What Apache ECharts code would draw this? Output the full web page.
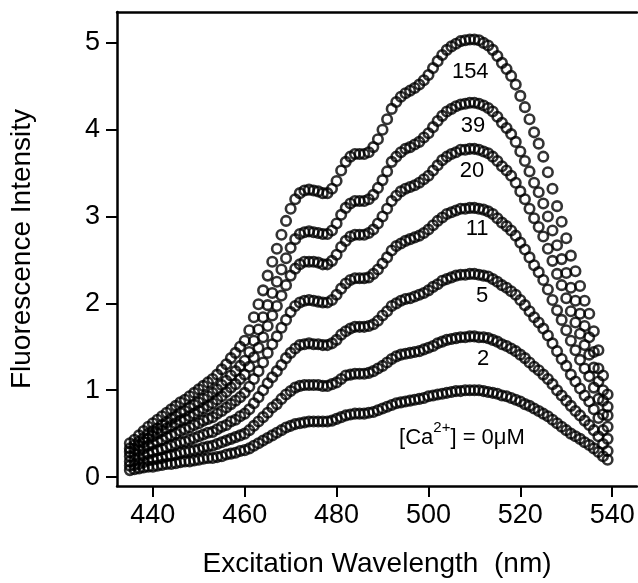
<!DOCTYPE html>
<html>
<head>
<meta charset="utf-8">
<script src="https://cdn.jsdelivr.net/npm/echarts@6/dist/echarts.min.js"></script>
<style>
html,body{margin:0;padding:0;background:#fff;}
#chart{width:638px;height:583px;}
</style>
</head>
<body>
<div id="chart"></div>
<script>
// Excitation wavelengths (nm)
const wavelengths = [435,436,437,438,439,440,441,442,443,444,445,446,447,448,449,450,451,452,453,454,455,456,457,458,459,460,461,462,463,464,465,466,467,468,469,470,471,472,473,474,475,476,477,478,479,480,481,482,483,484,485,486,487,488,489,490,491,492,493,494,495,496,497,498,499,500,501,502,503,504,505,506,507,508,509,510,511,512,513,514,515,516,517,518,519,520,521,522,523,524,525,526,527,528,529,530,531,532,533,534,535,536,537,538,539];

const ca154 = [0.39,0.43,0.48,0.53,0.58,0.62,0.66,0.70,0.74,0.78,
0.82,0.86,0.89,0.93,0.97,1.01,1.05,1.09,1.13,1.18,
1.24,1.30,1.37,1.43,1.50,1.57,1.69,1.84,1.99,2.15,
2.32,2.48,2.63,2.79,2.95,3.09,3.20,3.27,3.30,3.31,
3.30,3.29,3.27,3.27,3.32,3.41,3.53,3.63,3.69,3.72,
3.72,3.72,3.74,3.80,3.89,4.00,4.12,4.24,4.32,4.38,
4.42,4.45,4.48,4.52,4.57,4.63,4.71,4.79,4.86,4.92,
4.96,4.99,5.02,5.03,5.04,5.04,5.03,5.00,4.97,4.92,
4.85,4.77,4.70,4.62,4.52,4.39,4.26,4.12,3.97,3.84,
3.69,3.51,3.32,3.12,2.94,2.75,2.55,2.37,2.20,2.03,
1.88,1.68,1.46,1.17,0.95];

const ca39 = [0.33,0.37,0.41,0.45,0.50,0.53,0.56,0.60,0.63,0.67,
0.70,0.74,0.76,0.80,0.83,0.86,0.90,0.93,0.97,1.01,
1.06,1.11,1.17,1.22,1.28,1.34,1.44,1.57,1.70,1.84,
1.98,2.12,2.25,2.39,2.52,2.64,2.74,2.80,2.82,2.83,
2.82,2.81,2.80,2.80,2.84,2.92,3.02,3.10,3.15,3.18,
3.18,3.18,3.20,3.25,3.33,3.42,3.52,3.63,3.69,3.74,
3.78,3.80,3.83,3.86,3.91,3.96,4.03,4.10,4.16,4.21,
4.24,4.27,4.29,4.30,4.31,4.31,4.30,4.28,4.25,4.21,
4.15,4.08,4.02,3.95,3.86,3.75,3.64,3.52,3.39,3.28,
3.15,3.00,2.84,2.67,2.51,2.35,2.18,2.03,1.88,1.74,
1.61,1.44,1.25,1.00,0.81];

const ca20 = [0.29,0.32,0.36,0.40,0.44,0.47,0.50,0.53,0.56,0.59,
0.62,0.65,0.67,0.70,0.73,0.76,0.79,0.82,0.85,0.89,
0.93,0.98,1.03,1.07,1.13,1.18,1.27,1.38,1.49,1.61,
1.74,1.86,1.97,2.09,2.21,2.32,2.40,2.45,2.48,2.48,
2.48,2.47,2.45,2.45,2.49,2.56,2.65,2.72,2.77,2.79,
2.79,2.79,2.81,2.85,2.92,3.00,3.09,3.18,3.24,3.29,
3.32,3.34,3.36,3.39,3.43,3.47,3.53,3.59,3.65,3.69,
3.72,3.74,3.77,3.77,3.78,3.78,3.77,3.75,3.73,3.69,
3.64,3.58,3.53,3.47,3.39,3.29,3.20,3.09,2.98,2.88,
2.77,2.63,2.49,2.34,2.21,2.06,1.91,1.78,1.65,1.52,
1.41,1.26,1.10,0.88,0.71];

const ca11 = [0.24,0.26,0.30,0.33,0.36,0.38,0.41,0.43,0.46,0.48,
0.50,0.53,0.55,0.57,0.60,0.62,0.65,0.67,0.69,0.73,
0.76,0.80,0.84,0.88,0.92,0.97,1.04,1.13,1.22,1.32,
1.43,1.53,1.62,1.72,1.81,1.90,1.97,2.01,2.03,2.04,
2.03,2.02,2.01,2.01,2.04,2.10,2.17,2.23,2.27,2.29,
2.29,2.29,2.30,2.34,2.39,2.46,2.53,2.61,2.66,2.69,
2.72,2.74,2.76,2.78,2.81,2.85,2.90,2.95,2.99,3.03,
3.05,3.07,3.09,3.09,3.10,3.10,3.09,3.08,3.06,3.03,
2.98,2.93,2.89,2.84,2.78,2.70,2.62,2.53,2.44,2.36,
2.27,2.16,2.04,1.92,1.81,1.69,1.57,1.46,1.35,1.25,
1.16,1.03,0.90,0.72,0.58];

const ca5 = [0.18,0.20,0.22,0.25,0.27,0.29,0.31,0.32,0.34,0.36,
0.38,0.40,0.41,0.43,0.45,0.47,0.49,0.51,0.52,0.55,
0.58,0.60,0.64,0.66,0.70,0.73,0.78,0.85,0.92,1.00,
1.08,1.15,1.22,1.29,1.37,1.43,1.48,1.52,1.53,1.54,
1.53,1.53,1.52,1.52,1.54,1.58,1.64,1.68,1.71,1.73,
1.73,1.73,1.74,1.76,1.80,1.86,1.91,1.97,2.00,2.03,
2.05,2.06,2.08,2.10,2.12,2.15,2.19,2.22,2.26,2.28,
2.30,2.32,2.33,2.33,2.34,2.34,2.33,2.32,2.31,2.28,
2.25,2.21,2.18,2.14,2.10,2.04,1.98,1.91,1.84,1.78,
1.71,1.63,1.54,1.45,1.36,1.28,1.18,1.10,1.02,0.94,
0.87,0.78,0.68,0.54,0.44];

const ca2 = [0.13,0.14,0.15,0.17,0.19,0.20,0.21,0.22,0.24,0.25,
0.26,0.28,0.29,0.30,0.31,0.32,0.34,0.35,0.36,0.38,
0.40,0.42,0.44,0.46,0.48,0.50,0.54,0.59,0.64,0.69,
0.74,0.80,0.84,0.90,0.95,0.99,1.03,1.05,1.06,1.06,
1.06,1.06,1.05,1.05,1.07,1.09,1.13,1.17,1.18,1.19,
1.19,1.19,1.20,1.22,1.25,1.28,1.32,1.36,1.39,1.41,
1.42,1.43,1.44,1.45,1.47,1.49,1.51,1.54,1.56,1.58,
1.59,1.60,1.61,1.61,1.62,1.62,1.61,1.61,1.60,1.58,
1.56,1.53,1.51,1.48,1.45,1.41,1.37,1.32,1.27,1.23,
1.18,1.13,1.07,1.00,0.94,0.88,0.82,0.76,0.71,0.65,
0.60,0.54,0.47,0.38,0.30];

const ca0 = [0.08,0.09,0.10,0.11,0.12,0.12,0.13,0.14,0.15,0.15,
0.16,0.17,0.18,0.18,0.19,0.20,0.21,0.22,0.22,0.23,
0.24,0.26,0.27,0.28,0.30,0.31,0.33,0.36,0.39,0.42,
0.45,0.48,0.51,0.54,0.57,0.59,0.61,0.62,0.63,0.64,
0.64,0.64,0.64,0.64,0.65,0.67,0.69,0.71,0.72,0.73,
0.73,0.73,0.74,0.75,0.77,0.79,0.81,0.83,0.85,0.86,
0.87,0.88,0.89,0.90,0.91,0.93,0.94,0.95,0.96,0.97,
0.98,0.99,0.99,1.00,1.00,1.00,1.00,0.99,0.98,0.97,
0.96,0.94,0.93,0.91,0.89,0.87,0.84,0.82,0.79,0.76,
0.73,0.70,0.66,0.62,0.58,0.54,0.50,0.47,0.44,0.40,
0.37,0.33,0.29,0.24,0.20];

const seriesList = [ca154, ca39, ca20, ca11, ca5, ca2, ca0];

const xTicks = [440,460,480,500,520,540];
const yTicks = [0,1,2,3,4,5];

// Curve annotations in data coordinates
const curveLabelTexts = ['154','39','20','11','5','2'];
const curveLabelX = [509.1,509.7,509.5,510.6,511.7,511.9];
const curveLabelY = [4.67,4.04,3.52,2.86,2.09,1.36];
const zeroLabelPos = [507.3,0.49];

const FONT = '"Liberation Sans", Arial, Helvetica, sans-serif';

const chart = echarts.init(document.getElementById('chart'), null, {renderer:'canvas'});

const series = seriesList.map(vals => ({
  type: 'scatter',
  data: wavelengths.map((w,i)=>[w, vals[i]]),
  symbol: 'circle',
  symbolSize: 9.5,
  itemStyle: {color:'rgba(0,0,0,0)', borderColor:'#000', borderWidth:2.6},
  silent: true,
  animation: false
}));

chart.setOption({
  animation: false,
  backgroundColor: '#fff',
  grid: {left:117, right:1, top:12, bottom:95, containLabel:false},
  xAxis: [{
    type:'value', min:432.2, max:545.4, position:'bottom',
    axisLine:{onZero:false, lineStyle:{color:'#000', width:2.5}},
    axisTick:{show:true, customValues:xTicks, length:11, lineStyle:{color:'#000', width:2}},
    axisLabel:{customValues:xTicks, color:'#000', fontSize:27, fontFamily:FONT, margin:16},
    splitLine:{show:false},
    name:'Excitation Wavelength  (nm)', nameLocation:'middle', nameGap:64,
    nameTextStyle:{color:'#000', fontSize:28, fontFamily:FONT}
  },{
    type:'value', min:432.2, max:545.4, position:'top',
    axisLine:{onZero:false, lineStyle:{color:'#000', width:2.5}},
    axisTick:{show:false}, axisLabel:{show:false}, splitLine:{show:false}
  }],
  yAxis: {
    type:'value', min:-0.103, max:5.356,
    axisLine:{show:true, onZero:false, lineStyle:{color:'#000', width:2.5}},
    axisTick:{show:true, customValues:yTicks, length:11, lineStyle:{color:'#000', width:2}},
    axisLabel:{customValues:yTicks, color:'#000', fontSize:27, fontFamily:FONT, margin:17},
    splitLine:{show:false},
    name:'Fluorescence Intensity', nameLocation:'middle', nameGap:81, nameRotate:90,
    nameTextStyle:{color:'#000', fontSize:28, fontFamily:FONT}
  },
  series: series
});

function placeLabels(){
  const els = [];
  curveLabelTexts.forEach((t,i)=>{
    const p = chart.convertToPixel({xAxisIndex:0, yAxisIndex:0}, [curveLabelX[i], curveLabelY[i]]);
    els.push({type:'text', x:p[0], y:p[1], z:100,
      style:{text:t, fill:'#000', font:'22px ' + FONT, align:'center', verticalAlign:'middle'}});
  });
  const q = chart.convertToPixel({xAxisIndex:0, yAxisIndex:0}, zeroLabelPos);
  els.push({type:'text', x:q[0], y:q[1], z:100,
    style:{text:'{a|[Ca}{s|2+}{a|] = 0\u03BCM}', align:'center', verticalAlign:'middle',
      rich:{a:{fontSize:22, fontFamily:FONT, fill:'#000', lineHeight:28, verticalAlign:'bottom'},
            s:{fontSize:15, fontFamily:FONT, fill:'#000', lineHeight:28, verticalAlign:'top'}}}});
  chart.setOption({graphic:{elements:els}});
}
placeLabels();
</script>
</body>
</html>
